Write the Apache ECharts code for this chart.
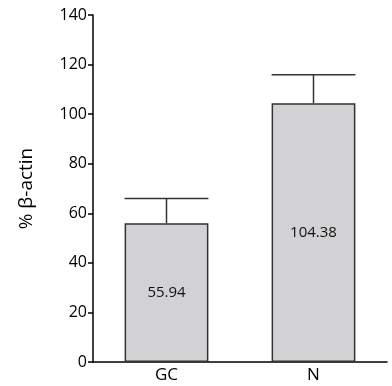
<!DOCTYPE html>
<html>
<head>
<meta charset="utf-8">
<script src="https://cdn.jsdelivr.net/npm/echarts@6/dist/echarts.min.js"></script>
<style>html,body{margin:0;padding:0;background:#fff;}#c{width:392px;height:386px;}</style>
</head>
<body>
<div id="c"></div>
<script>
const categories = ['GC', 'N'];
const means = [55.94, 104.38];
const errors = [10.0, 11.5];
const yTicks = [0, 20, 40, 60, 80, 100, 120, 140];
const yTitle = '% β-actin';

const FONT = 'Open Sans';
const chart = echarts.init(document.getElementById('c'), null, {renderer: 'canvas'});
const errData = categories.map((c, i) => [i, means[i], means[i] + errors[i]]);
chart.setOption({
  animation: false,
  grid: {left: 93, right: 5, top: 15, bottom: 24, containLabel: false},
  xAxis: {
    type: 'category',
    data: categories,
    boundaryGap: true,
    axisLine: {lineStyle: {color: '#000', width: 1.5}},
    axisTick: {show: false},
    axisLabel: {color: '#000', fontSize: 17, fontFamily: FONT, margin: 5}
  },
  yAxis: {
    type: 'value',
    min: yTicks[0],
    max: yTicks[yTicks.length - 1],
    interval: yTicks[1] - yTicks[0],
    name: yTitle,
    nameLocation: 'middle',
    nameGap: 57,
    nameRotate: 90,
    nameTextStyle: {color: '#000', fontSize: 19, fontFamily: FONT},
    splitLine: {show: false},
    axisLine: {show: true, lineStyle: {color: '#000', width: 1.5}},
    axisTick: {show: true, length: 5, lineStyle: {color: '#000', width: 1.5}},
    axisLabel: {color: '#000', fontSize: 16, fontFamily: FONT, margin: 6}
  },
  series: [
    {
      type: 'bar',
      data: means,
      barWidth: '57%',
      itemStyle: {color: '#d2d2d4', borderColor: '#333', borderWidth: 1.5},
      label: {show: true, position: 'inside', color: '#111', fontSize: 15, fontFamily: FONT,
        formatter: p => p.value.toFixed(2)}
    },
    {
      type: 'custom',
      data: errData,
      z: 1,
      renderItem: function (params, api) {
        const x = api.value(0);
        const lo = api.coord([x, api.value(1)]);
        const hi = api.coord([x, api.value(2)]);
        const half = api.size([1, 0])[0] * 0.57 / 2;
        const st = {stroke: '#333', lineWidth: 1.5};
        return {
          type: 'group',
          children: [
            {type: 'line', shape: {x1: lo[0], y1: lo[1], x2: hi[0], y2: hi[1]}, style: st},
            {type: 'line', shape: {x1: hi[0] - half, y1: hi[1], x2: hi[0] + half, y2: hi[1]}, style: st}
          ]
        };
      }
    }
  ]
});
</script>
</body>
</html>
